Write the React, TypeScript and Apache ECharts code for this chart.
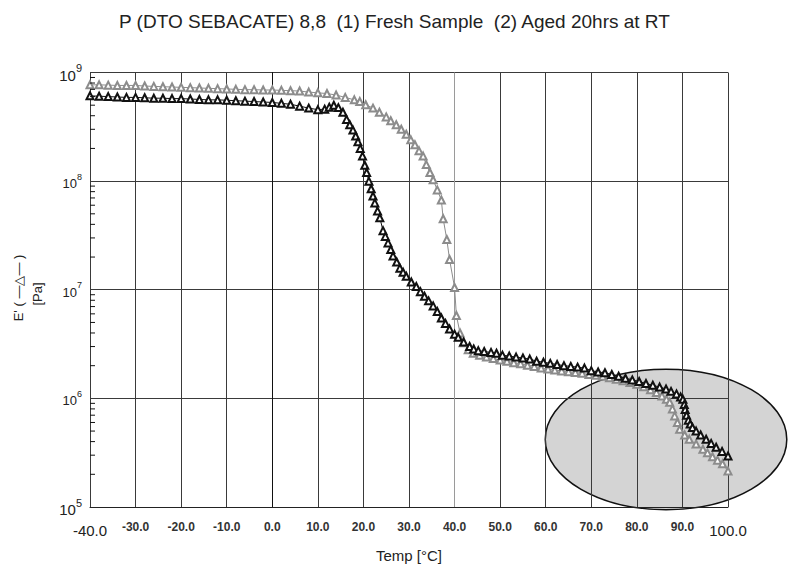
import React, { useEffect, useRef } from "react";
import * as echarts from "echarts";

const chartTitle = "P (DTO SEBACATE) 8,8  (1) Fresh Sample  (2) Aged 20hrs at RT";
const xAxisTitle = "Temp [°C]";
const yAxisTitle = "E' ( —△— )";
const yAxisUnit = "[Pa]";

const xMin = -40;
const xMax = 100;
const xStep = 10;
const yMin = 1e5;
const yMax = 1e9;

// (1) Fresh Sample — black triangles: [temperature °C, E' Pa]
const freshSample: [number, number][] = [
  [-40, 6.1e8], [-38, 6.05e8], [-36, 6.0e8], [-34, 5.95e8], [-32, 5.9e8], [-30, 5.9e8],
  [-28, 5.85e8], [-26, 5.8e8], [-24, 5.8e8], [-22, 5.75e8], [-20, 5.75e8], [-18, 5.7e8],
  [-16, 5.65e8], [-14, 5.6e8], [-12, 5.6e8], [-10, 5.55e8], [-8, 5.5e8], [-6, 5.45e8],
  [-4, 5.4e8], [-2, 5.35e8], [0, 5.3e8], [2, 5.2e8], [4, 5.1e8], [6, 4.9e8], [8, 4.7e8],
  [10, 4.55e8], [11.5, 4.6e8], [12.5, 4.8e8], [13.5, 5.0e8], [14.5, 4.75e8], [15.5, 4.3e8],
  [16.3, 3.7e8], [17, 3.3e8], [17.7, 2.95e8], [18.3, 2.6e8], [18.8, 2.3e8], [19.3, 2.0e8],
  [19.8, 1.7e8], [20.3, 1.4e8], [20.7, 1.2e8], [21.2, 1.0e8], [21.7, 8.5e7], [22.1, 7.3e7],
  [22.5, 6.3e7], [23.1, 5.3e7], [23.6, 4.6e7], [24.3, 3.5e7], [24.8, 3.1e7], [25.4, 2.7e7],
  [26, 2.35e7], [26.5, 2.05e7], [27.3, 1.8e7], [28, 1.58e7], [28.7, 1.45e7], [29.4, 1.33e7],
  [30.5, 1.18e7], [31.6, 1.07e7], [32.5, 9.6e6], [33.4, 8.7e6], [34.3, 7.9e6], [35.3, 7.1e6],
  [36.2, 6.3e6], [37.1, 5.5e6], [38, 4.9e6], [38.9, 4.35e6], [40, 3.9e6], [40.8, 3.65e6],
  [42, 3.3e6], [43.3, 3.0e6], [44.2, 2.85e6], [45.2, 2.75e6], [46.5, 2.7e6], [48, 2.65e6],
  [49.2, 2.6e6], [50.5, 2.5e6], [52, 2.45e6], [53.5, 2.4e6], [55, 2.35e6], [56.5, 2.3e6],
  [58, 2.2e6], [59.5, 2.15e6], [61, 2.1e6], [62.5, 2.05e6], [64, 2.0e6], [65.5, 1.97e6],
  [67, 1.94e6], [68.5, 1.9e6], [70, 1.8e6], [71.5, 1.75e6], [73, 1.72e6], [74.5, 1.66e6],
  [76, 1.6e6], [77.5, 1.53e6], [79, 1.48e6], [80.5, 1.43e6], [82, 1.37e6], [83.5, 1.32e6],
  [85, 1.27e6], [86.4, 1.22e6], [87.5, 1.16e6], [88.7, 1.1e6], [89.6, 1.03e6], [90.1, 9.8e5],
  [90.4, 8.8e5], [90.6, 7.9e5], [90.9, 7.0e5], [91.3, 6.3e5], [91.7, 5.8e5], [92.2, 5.4e5],
  [93, 5.0e5], [94, 4.6e5], [95.2, 4.2e5], [96.3, 3.85e5], [97.4, 3.55e5], [98.7, 3.25e5],
  [100, 2.95e5],
];

// (2) Aged 20hrs at RT — grey triangles: [temperature °C, E' Pa]
const agedSample: [number, number][] = [
  [-40, 7.7e8], [-38, 7.7e8], [-36, 7.65e8], [-34, 7.6e8], [-32, 7.6e8], [-30, 7.6e8],
  [-28, 7.5e8], [-26, 7.45e8], [-24, 7.4e8], [-22, 7.35e8], [-20, 7.3e8], [-18, 7.25e8],
  [-16, 7.2e8], [-14, 7.15e8], [-12, 7.1e8], [-10, 7.05e8], [-8, 7.0e8], [-6, 6.95e8],
  [-4, 6.95e8], [-2, 6.9e8], [0, 6.9e8], [2, 6.85e8], [4, 6.8e8], [6, 6.75e8], [8, 6.6e8],
  [10, 6.5e8], [12, 6.4e8], [14, 6.2e8], [16, 5.9e8], [18, 5.6e8], [19.2, 5.4e8],
  [20.5, 5.05e8], [22.1, 4.7e8], [23.5, 4.3e8], [25, 3.9e8], [26, 3.6e8], [27.2, 3.3e8],
  [28.3, 3.0e8], [29.4, 2.7e8], [30.4, 2.4e8], [31.3, 2.16e8], [32.2, 1.9e8], [33.1, 1.7e8],
  [33.8, 1.42e8], [34.6, 1.2e8], [35.3, 1.03e8], [36.2, 8.3e7], [37.1, 6.7e7], [37.5, 4.5e7],
  [38.3, 2.9e7], [38.9, 1.9e7], [40, 1.05e7], [40.4, 5.8e6], [41.2, 4.0e6], [41.9, 3.25e6],
  [43, 2.8e6], [44.1, 2.6e6], [45.5, 2.5e6], [47, 2.4e6], [48.5, 2.33e6], [50, 2.25e6],
  [51.5, 2.2e6], [53, 2.13e6], [54.5, 2.08e6], [56, 2.02e6], [57.5, 1.97e6], [59, 1.9e6],
  [60.5, 1.86e6], [62, 1.82e6], [63.5, 1.79e6], [65, 1.76e6], [66.5, 1.73e6], [68, 1.7e6],
  [69.5, 1.66e6], [71, 1.63e6], [72.5, 1.6e6], [74, 1.55e6], [75.5, 1.5e6], [77, 1.45e6],
  [78.5, 1.4e6], [80, 1.35e6], [81.5, 1.28e6], [83, 1.2e6], [84.3, 1.13e6], [85.5, 1.05e6],
  [86.5, 9.8e5], [87.2, 9.2e5], [87.8, 8.0e5], [88.3, 6.9e5], [88.9, 6.0e5], [89.4, 5.2e5],
  [90.5, 4.6e5], [91.5, 4.2e5], [93, 3.8e5], [94.5, 3.4e5], [95.5, 3.15e5], [96.6, 2.9e5],
  [97.7, 2.7e5], [98.8, 2.5e5], [100, 2.14e5],
];

// highlighted region (ellipse) in data units
const ellipseCenterTemp = 86.4;
const ellipseCenterModulus = 4.19e5;
const ellipseHalfWidthTemp = 26.5;
const ellipseHalfHeightDecades = 0.647;

const FONT = "'Liberation Sans', Arial, sans-serif";

export default function App() {
  const ref = useRef<HTMLDivElement>(null);

  useEffect(() => {
    if (!ref.current) return;
    const chart = echarts.init(ref.current, null, { renderer: "svg" });

    const minorTicks: [number, number][] = [];
    for (let k = 5; k < 9; k++) {
      for (let m = 2; m <= 9; m++) minorTicks.push([xMin, m * Math.pow(10, k)]);
    }

    const nLines = Math.round((xMax - xMin) / xStep) + 1;
    const vColors: string[] = [];
    for (let i = 0; i < nLines; i++) vColors.push(xMin + i * xStep === 40 ? "#9a9a9a" : "#3a3a3a");

    const option: any = {
      animation: false,
      backgroundColor: "#ffffff",
      title: {
        text: chartTitle,
        left: 114,
        top: 7,
        textStyle: { fontFamily: FONT, fontSize: 19, fontWeight: "normal", color: "#222" },
      },
      grid: { left: 90, top: 72.5, width: 638, height: 436 },
      xAxis: {
        type: "value",
        min: xMin,
        max: xMax,
        interval: xStep,
        name: xAxisTitle,
        nameLocation: "middle",
        nameGap: 41,
        nameTextStyle: { fontFamily: FONT, fontSize: 15, color: "#222" },
        axisLine: { show: true, lineStyle: { color: "#222", width: 1 } },
        axisTick: { show: false },
        splitLine: { show: true, lineStyle: { color: vColors, width: 1 } },
        axisLabel: {
          showMinLabel: true,
          showMaxLabel: true,
          margin: 12,
          formatter: (v: number) =>
            v === xMin || v === xMax ? `{e|${v.toFixed(1)}}` : `{m|${v.toFixed(1)}}`,
          rich: {
            e: { fontFamily: FONT, fontSize: 15, lineHeight: 22, color: "#222" },
            m: { fontFamily: FONT, fontSize: 12, lineHeight: 16, color: "#333", fontWeight: "bold" },
          },
        },
      },
      yAxis: {
        type: "log",
        logBase: 10,
        min: yMin,
        max: yMax,
        axisLine: { show: true, lineStyle: { color: "#111", width: 1 } },
        axisTick: { show: false },
        splitLine: { show: true, lineStyle: { color: "#3a3a3a", width: 1 } },
        axisLabel: {
          margin: 8,
          formatter: (v: number) => {
            const k = Math.round(Math.log10(v));
            return k === 5 || k === 9 ? `{eb|10}{es|${k}}` : `{mb|10}{ms|${k}}`;
          },
          rich: {
            eb: { fontFamily: FONT, fontSize: 15, lineHeight: 20, verticalAlign: "bottom", color: "#222" },
            es: { fontFamily: FONT, fontSize: 11, lineHeight: 12, verticalAlign: "top", color: "#222" },
            mb: { fontFamily: FONT, fontSize: 13, lineHeight: 18, verticalAlign: "bottom", color: "#222" },
            ms: { fontFamily: FONT, fontSize: 9, lineHeight: 10, verticalAlign: "top", color: "#222" },
          },
        },
      },
      series: [
        {
          name: "(2) Aged 20hrs at RT",
          type: "line",
          data: agedSample,
          symbol: "emptyTriangle",
          symbolSize: 7,
          showSymbol: true,
          showAllSymbol: true,
          clip: false,
          itemStyle: { color: "#8c8c8c", borderWidth: 1 },
          lineStyle: { color: "#8c8c8c", width: 1 },
          z: 3,
        },
        {
          name: "(1) Fresh Sample",
          type: "line",
          data: freshSample,
          symbol: "emptyTriangle",
          symbolSize: 7,
          showSymbol: true,
          showAllSymbol: true,
          clip: false,
          itemStyle: { color: "#111", borderWidth: 1 },
          lineStyle: { color: "#111", width: 1 },
          z: 4,
        },
        {
          type: "custom",
          silent: true,
          clip: false,
          z: 5,
          data: minorTicks,
          renderItem: (_p: any, api: any) => {
            const pt = api.coord([api.value(0), api.value(1)]);
            return {
              type: "line",
              shape: { x1: pt[0], y1: pt[1], x2: pt[0] + 5, y2: pt[1] },
              style: { stroke: "#111", lineWidth: 1 },
            };
          },
        },
      ],
      graphic: [
        {
          type: "text",
          x: 18,
          y: 288,
          rotation: Math.PI / 2,
          style: {
            text: yAxisTitle,
            fontFamily: FONT,
            fontSize: 13,
            fill: "#222222",
            align: "center",
            verticalAlign: "middle",
          },
        },
        {
          type: "text",
          x: 37,
          y: 294,
          rotation: Math.PI / 2,
          style: {
            text: yAxisUnit,
            fontFamily: FONT,
            fontSize: 13,
            fill: "#222222",
            align: "center",
            verticalAlign: "middle",
          },
        },
      ],
    };

    chart.setOption(option);

    const c = chart.convertToPixel({ gridIndex: 0 }, [ellipseCenterTemp, ellipseCenterModulus]) as number[];
    const e = chart.convertToPixel({ gridIndex: 0 }, [
      ellipseCenterTemp + ellipseHalfWidthTemp,
      ellipseCenterModulus * Math.pow(10, ellipseHalfHeightDecades),
    ]) as number[];
    chart.setOption({
      graphic: [
        option.graphic[0],
        option.graphic[1],
        {
          type: "ellipse",
          silent: true,
          z: -10,
          shape: { cx: c[0], cy: c[1], rx: e[0] - c[0], ry: c[1] - e[1] },
          style: { fill: "#d4d4d4", stroke: "#111", lineWidth: 1.5 },
        },
      ],
    });

    return () => chart.dispose();
  }, []);

  return (
    <div
      ref={ref}
      style={{ position: "fixed", left: 0, top: 0, width: 788, height: 568, background: "#fff" }}
    />
  );
}
